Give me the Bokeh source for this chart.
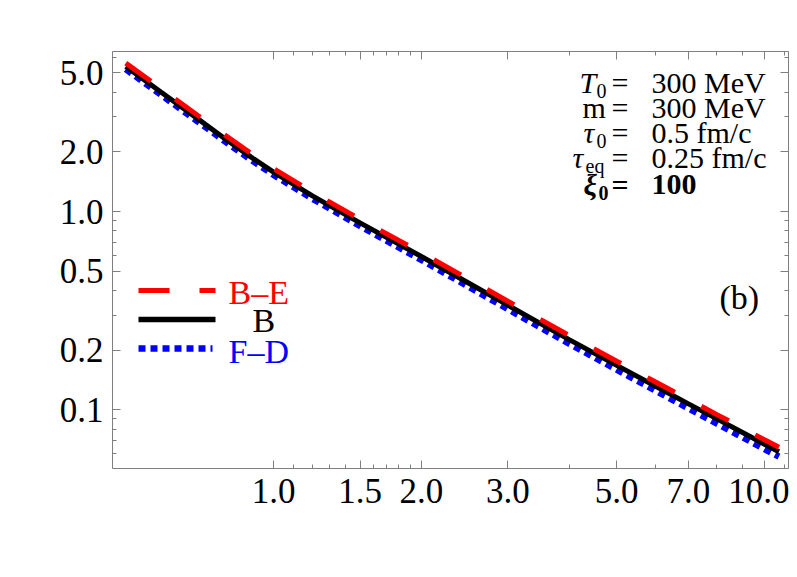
import math
from bokeh.plotting import figure
from bokeh.models import Range1d, LogAxis, FixedTicker, CustomJSTickFormatter
from bokeh.core.properties import value
from bokeh.embed import file_html
from bokeh.resources import INLINE

# ---------------- data ----------------
tau = [0.5, 0.6, 0.7, 0.8, 0.9, 1.0, 1.2, 1.5, 2.0, 2.5, 3.0, 4.0, 5.0, 6.0,
       7.0, 8.0, 9.0, 10.0, 10.7]
boltzmann = [5.38, 3.88, 2.94, 2.31, 1.88, 1.58, 1.20, 0.877, 0.593, 0.435,
             0.337, 0.226, 0.1675, 0.1315, 0.1072, 0.0900, 0.0771, 0.0671, 0.0615]
bose_einstein = [5.60, 4.04, 3.06, 2.41, 1.96, 1.645, 1.25, 0.914, 0.619, 0.455,
                 0.353, 0.237, 0.1757, 0.1381, 0.1127, 0.0946, 0.0811, 0.0706, 0.0648]
fermi_dirac = [5.22, 3.76, 2.85, 2.24, 1.82, 1.53, 1.16, 0.845, 0.570, 0.417,
               0.322, 0.2155, 0.1594, 0.1249, 0.1016, 0.0852, 0.0729, 0.0634, 0.0581]

x_major = [1.0, 1.5, 2.0, 3.0, 5.0, 7.0, 10.0]
x_minor = [1.1, 1.2, 1.3, 1.4, 1.6, 1.7, 1.8, 1.9, 4.0, 6.0, 8.0, 9.0, 11.0]
y_major = [0.1, 0.2, 0.5, 1.0, 2.0, 5.0]
y_minor = [0.06, 0.07, 0.08, 0.09, 0.3, 0.4, 0.6, 0.7, 0.8, 0.9, 3.0, 4.0, 6.0]

legend_labels = ["B–E", "B", "F–D"]
params_left = ["T", "m", "τ", "τ", "ξ"]
params_sub = ["0", "", "0", "eq", "0"]
params_right = ["300 MeV", "300 MeV", "0.5 fm/c", "0.25 fm/c", "100"]
panel_label = "(b)"

X0, X1 = 0.4698, 11.19
Y0, Y1 = 0.0506, 6.41

# ---------------- figure ----------------
FONT = "Liberation Serif"
GRAY = "#7f7f7f"

p = figure(x_axis_type="log", y_axis_type="log",
           x_range=Range1d(X0, X1), y_range=Range1d(Y0, Y1),
           frame_width=676, frame_height=417,
           min_border_left=112, min_border_top=51, min_border_right=1,
           min_border_bottom=70,
           output_backend="svg", toolbar_location=None)
p.outline_line_color = None
p.xgrid.visible = False
p.ygrid.visible = False
p.background_fill_color = "white"
p.border_fill_color = "white"

fmt = CustomJSTickFormatter(code="return tick.toFixed(1);")
blank = CustomJSTickFormatter(code="return '';")


def style_axis(ax, labels=True):
    ax.axis_line_color = GRAY
    ax.axis_line_width = 1
    ax.major_tick_line_color = GRAY
    ax.minor_tick_line_color = GRAY
    ax.major_tick_in = 8
    ax.major_tick_out = 0
    ax.minor_tick_in = 4
    ax.minor_tick_out = 0
    if labels:
        ax.major_label_text_font = FONT
        ax.major_label_text_font_size = "35px"
        ax.major_label_text_color = "black"
    else:
        ax.major_label_text_font_size = "0px"
        ax.major_label_standoff = 0


xt = FixedTicker(ticks=x_major, minor_ticks=x_minor)
yt = FixedTicker(ticks=y_major, minor_ticks=y_minor)

p.xaxis.ticker = xt
p.yaxis.ticker = yt
p.xaxis.formatter = fmt
p.yaxis.formatter = fmt
style_axis(p.xaxis[0])
style_axis(p.yaxis[0])
p.xaxis.major_label_standoff = 10
p.yaxis.major_label_standoff = 9

top = LogAxis(ticker=FixedTicker(ticks=x_major, minor_ticks=x_minor), formatter=blank)
right = LogAxis(ticker=FixedTicker(ticks=y_major, minor_ticks=y_minor), formatter=blank)
style_axis(top, labels=False)
style_axis(right, labels=False)
p.add_layout(top, "above")
p.add_layout(right, "right")

# ---------------- curves ----------------
p.line(tau, fermi_dirac, line_color="#0000ff", line_width=6.5, line_dash="7 5")
p.line(tau, boltzmann, line_color="black", line_width=5)
p.line(tau, bose_einstein, line_color="#ff0000", line_width=5, line_dash="31 30")

# ---------------- pixel helpers for annotations (image pixels) ----------------
FL, FR, FT, FB = 112, 788, 51, 468


def dx(px):
    lx0, lx1 = math.log10(X0), math.log10(X1)
    return 10 ** (lx0 + (px - FL) / (FR - FL) * (lx1 - lx0))


def dy(py):
    ly0, ly1 = math.log10(Y0), math.log10(Y1)
    return 10 ** (ly0 + (FB - py) / (FB - FT) * (ly1 - ly0))


def txt(x, y, s, size, color="black", style="normal", align="left"):
    shift = 0.28 * float(size.replace("px", ""))
    p.text(x=[dx(x)], y=[dy(y - shift)], text=[s], text_font=value(FONT),
           text_font_size=value(size), text_font_style=style,
           text_align=align, text_baseline="alphabetic", text_color=color)


# legend
leg_colors = ["#ff0000", "black", "#0000ff"]
leg_dash = ["31 30", "solid", "7 5"]
leg_width = [5, 5.5, 6.5]
leg_y = [290, 319, 348]
leg_x_end = [215, 215, 212]
for c, d, w, yy, xe in zip(leg_colors, leg_dash, leg_width, leg_y, leg_x_end):
    p.line([dx(138), dx(xe)], [dy(yy), dy(yy)], line_color=c, line_width=w,
           line_dash=d)
txt(228, 302, legend_labels[0], "34px", "#ff0000")
txt(252, 330, legend_labels[1], "34px", "black")
txt(228, 361, legend_labels[2], "34px", "#0000ff")

# parameters
base = [90, 115, 140, 165, 192]
main_x = [579, 582, 583, 572, 583]
sub_x = [596, 0, 596, 585, 598]
main_style = ["italic", "normal", "italic", "italic", "bold italic"]
for i in range(5):
    bold = i == 4
    txt(main_x[i], base[i], params_left[i], "30px", style=main_style[i])
    if params_sub[i]:
        txt(sub_x[i], base[i] + 6, params_sub[i], "20px",
            style="bold" if bold else "normal")
    txt(611, base[i], "=", "30px", style="bold" if bold else "normal")
    txt(651, base[i], params_right[i], "30px", style="bold" if bold else "normal")

txt(719, 307, panel_label, "34px")

open("out.html", "w").write(file_html(p, INLINE))
